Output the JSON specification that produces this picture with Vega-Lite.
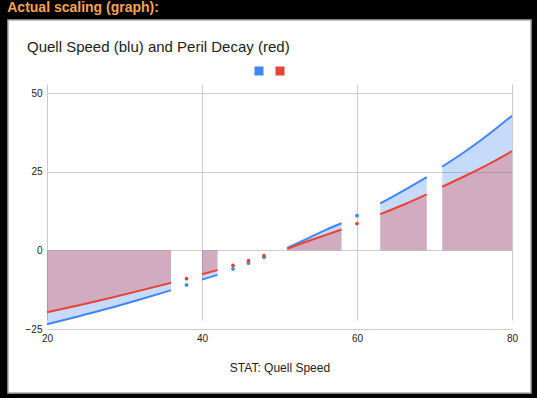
{
  "$schema": "https://vega.github.io/schema/vega-lite/v6.json",
  "background": "black",
  "padding": {"left": 7, "right": 6, "top": 1, "bottom": 5},
  "title": {"text": "Actual scaling (graph):", "anchor": "start", "color": "#f4a352", "font": "Liberation Sans", "fontSize": 14, "fontWeight": "bold", "offset": 4, "dx": 0},
  "datasets": {
    "runs": [
      {"x": 20, "s": "Quell Speed", "v": -23.5, "seg": "A"},
      {"x": 24, "s": "Quell Speed", "v": -21.0, "seg": "A"},
      {"x": 28, "s": "Quell Speed", "v": -18.4, "seg": "A"},
      {"x": 32, "s": "Quell Speed", "v": -15.6, "seg": "A"},
      {"x": 36, "s": "Quell Speed", "v": -12.7, "seg": "A"},
      {"x": 40, "s": "Quell Speed", "v": -9.3, "seg": "B"},
      {"x": 42, "s": "Quell Speed", "v": -7.8, "seg": "B"},
      {"x": 51, "s": "Quell Speed", "v": 0.8, "seg": "C"},
      {"x": 54, "s": "Quell Speed", "v": 4.2, "seg": "C"},
      {"x": 56, "s": "Quell Speed", "v": 6.5, "seg": "C"},
      {"x": 58, "s": "Quell Speed", "v": 8.6, "seg": "C"},
      {"x": 63, "s": "Quell Speed", "v": 14.9, "seg": "D"},
      {"x": 66, "s": "Quell Speed", "v": 19.0, "seg": "D"},
      {"x": 69, "s": "Quell Speed", "v": 23.3, "seg": "D"},
      {"x": 71, "s": "Quell Speed", "v": 26.6, "seg": "E"},
      {"x": 74, "s": "Quell Speed", "v": 31.5, "seg": "E"},
      {"x": 77, "s": "Quell Speed", "v": 36.9, "seg": "E"},
      {"x": 80, "s": "Quell Speed", "v": 42.8, "seg": "E"},
      {"x": 20, "s": "Peril Decay", "v": -19.7, "seg": "A"},
      {"x": 24, "s": "Peril Decay", "v": -17.5, "seg": "A"},
      {"x": 28, "s": "Peril Decay", "v": -15.2, "seg": "A"},
      {"x": 32, "s": "Peril Decay", "v": -12.8, "seg": "A"},
      {"x": 36, "s": "Peril Decay", "v": -10.3, "seg": "A"},
      {"x": 40, "s": "Peril Decay", "v": -7.6, "seg": "B"},
      {"x": 42, "s": "Peril Decay", "v": -6.3, "seg": "B"},
      {"x": 51, "s": "Peril Decay", "v": 0.5, "seg": "C"},
      {"x": 54, "s": "Peril Decay", "v": 3.2, "seg": "C"},
      {"x": 56, "s": "Peril Decay", "v": 4.9, "seg": "C"},
      {"x": 58, "s": "Peril Decay", "v": 6.6, "seg": "C"},
      {"x": 63, "s": "Peril Decay", "v": 11.5, "seg": "D"},
      {"x": 66, "s": "Peril Decay", "v": 14.5, "seg": "D"},
      {"x": 69, "s": "Peril Decay", "v": 17.8, "seg": "D"},
      {"x": 71, "s": "Peril Decay", "v": 20.2, "seg": "E"},
      {"x": 74, "s": "Peril Decay", "v": 23.7, "seg": "E"},
      {"x": 77, "s": "Peril Decay", "v": 27.4, "seg": "E"},
      {"x": 80, "s": "Peril Decay", "v": 31.5, "seg": "E"}
    ],
    "dots": [
      {"x": 38, "s": "Quell Speed", "v": -11.0},
      {"x": 44, "s": "Quell Speed", "v": -5.9},
      {"x": 46, "s": "Quell Speed", "v": -4.1},
      {"x": 48, "s": "Quell Speed", "v": -2.2},
      {"x": 60, "s": "Quell Speed", "v": 11.0},
      {"x": 38, "s": "Peril Decay", "v": -9.0},
      {"x": 44, "s": "Peril Decay", "v": -4.8},
      {"x": 46, "s": "Peril Decay", "v": -3.3},
      {"x": 48, "s": "Peril Decay", "v": -1.7},
      {"x": 60, "s": "Peril Decay", "v": 8.5}
    ]
  },
  "vconcat": [
    {
      "width": 523,
      "height": 373,
      "title": {"text": "Quell Speed (blu) and Peril Decay (red)", "anchor": "start", "frame": "group", "offset": -35, "dx": 19, "fontSize": 15, "font": "Liberation Sans", "fontWeight": "normal", "color": "#222222"},
      "encoding": {
        "x": {"field": "x", "type": "quantitative",
          "scale": {"domain": [20, 80], "range": [39, 504], "nice": false, "zero": false},
          "axis": {"values": [20, 40, 60, 80], "offset": -64, "domain": false, "ticks": false, "grid": true, "gridColor": "#cccccc", "labelFontSize": 10, "labelColor": "#222222", "labelPadding": 4, "labelFlush": false, "title": "STAT: Quell Speed", "titleFontSize": 12, "titleFontWeight": "normal", "titleColor": "#222222", "titlePadding": 19}},
        "y": {"field": "v", "type": "quantitative", "stack": null,
          "scale": {"domain": [-25, 50], "range": [309, 73], "nice": false},
          "axis": {"values": [-25, 0, 25, 50], "offset": -39, "domain": false, "ticks": false, "grid": true, "gridColor": "#cccccc", "labelFontSize": 10, "labelColor": "#222222", "labelPadding": 5, "labelFlush": false, "title": null}}
      },
      "layer": [
        {"data": {"name": "runs"}, "transform": [{"filter": "datum.s === 'Quell Speed'"}],
          "mark": {"type": "area", "color": "#4285f4", "opacity": 0.3, "interpolate": "monotone"},
          "encoding": {"detail": {"field": "seg"}}},
        {"data": {"name": "runs"}, "transform": [{"filter": "datum.s === 'Peril Decay'"}],
          "mark": {"type": "area", "color": "#ea4335", "opacity": 0.3, "interpolate": "monotone"},
          "encoding": {"detail": {"field": "seg"}}},
        {"data": {"values": [{"z": 0}]},
          "mark": {"type": "rule", "color": "#999999", "strokeWidth": 2},
          "encoding": {"x": {"datum": 20}, "x2": {"datum": 80}, "y": {"datum": 0}}},
        {"data": {"name": "runs"}, "transform": [{"filter": "datum.s === 'Quell Speed'"}],
          "mark": {"type": "line", "color": "#4285f4", "strokeWidth": 2, "interpolate": "monotone"},
          "encoding": {"detail": {"field": "seg"}}},
        {"data": {"name": "runs"}, "transform": [{"filter": "datum.s === 'Peril Decay'"}],
          "mark": {"type": "line", "color": "#ea4335", "strokeWidth": 2, "interpolate": "monotone"},
          "encoding": {"detail": {"field": "seg"}}},
        {"data": {"name": "dots"},
          "mark": {"type": "point", "filled": true, "opacity": 1, "size": 14},
          "encoding": {"color": {"field": "s", "type": "nominal",
            "scale": {"domain": ["Quell Speed", "Peril Decay"], "range": ["#4285f4", "#ea4335"]},
            "legend": {"orient": "none", "legendX": 246, "legendY": 46, "direction": "horizontal", "title": null, "symbolType": "square", "symbolSize": 81, "symbolOpacity": 1, "symbolStrokeWidth": 0, "labelExpr": "''", "labelOffset": 0, "columnPadding": 11, "padding": 0}}}}
      ]
    }
  ],
  "config": {
    "font": "Liberation Sans",
    "view": {"fill": "white", "stroke": "#aaaaaa", "strokeWidth": 1.5}
  }
}
